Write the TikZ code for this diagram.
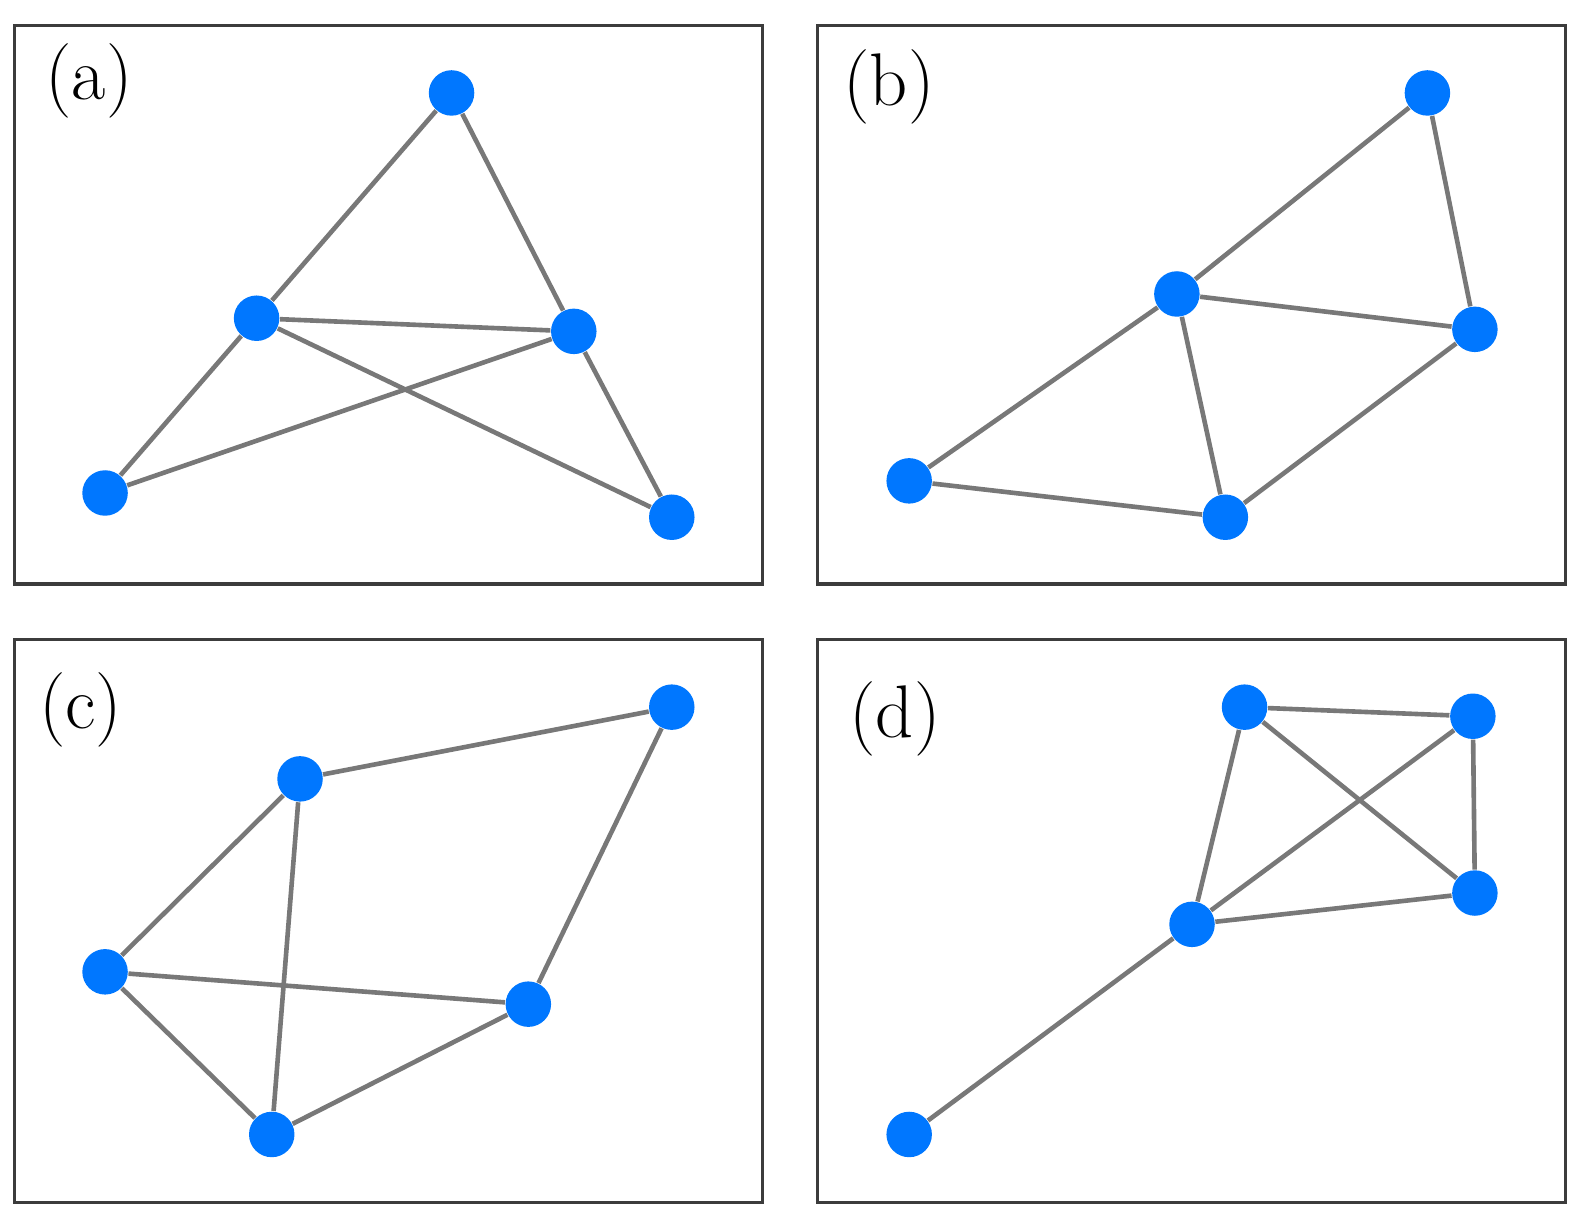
\documentclass[tikz,border=0pt]{standalone}
\begin{document}
\begin{tikzpicture}[x=0.01cm,y=-0.01cm,
  vtx/.style={circle,fill={rgb,255:red,0;green,119;blue,255},inner sep=0pt,minimum size=0.45cm},
  edge/.style={draw={rgb,255:red,120;green,120;blue,120},line width=1.3pt},
  panel/.style={draw={rgb,255:red,60;green,60;blue,60},line width=0.9pt},
  lab/.style={font=\fontsize{21}{25}\selectfont}]
\useasboundingbox (0,0) rectangle (1568,1211);
\draw[panel] (14,25) rectangle (755,578);
\draw[panel] (809,25) rectangle (1550,578);
\draw[panel] (14,633) rectangle (755,1190);
\draw[panel] (809,633) rectangle (1550,1190);
\node[lab] (la) at (88,80) {(a)};
\node[lab] (lb) at (880,86) {(b)};
\node[lab] (lc) at (80,703) {(c)};
\node[lab] (ld) at (886,712) {(d)};
% (a)
\node[vtx] (a1) at (447,92) {};
\node[vtx] (a2) at (254,315) {};
\node[vtx] (a3) at (568,328) {};
\node[vtx] (a4) at (104,488) {};
\node[vtx] (a5) at (665,512) {};
% (b)
\node[vtx] (b1) at (1413,92) {};
\node[vtx] (b2) at (1165,291) {};
\node[vtx] (b3) at (1460,326) {};
\node[vtx] (b4) at (900,476) {};
\node[vtx] (b5) at (1213,512) {};
% (c)
\node[vtx] (c1) at (665,700) {};
\node[vtx] (c2) at (297,771) {};
\node[vtx] (c3) at (104,962) {};
\node[vtx] (c4) at (523,994) {};
\node[vtx] (c5) at (269,1123) {};
% (d)
\node[vtx] (d1) at (1232,700) {};
\node[vtx] (d2) at (1458,709) {};
\node[vtx] (d3) at (1460,884) {};
\node[vtx] (d4) at (1180,915) {};
\node[vtx] (d5) at (900,1123) {};
\path[edge] (a1)--(a2) (a1)--(a3) (a2)--(a3) (a2)--(a4) (a2)--(a5) (a3)--(a4) (a3)--(a5);
\path[edge] (b1)--(b2) (b1)--(b3) (b2)--(b3) (b2)--(b4) (b2)--(b5) (b4)--(b5) (b5)--(b3);
\path[edge] (c2)--(c1) (c1)--(c4) (c2)--(c3) (c2)--(c5) (c3)--(c4) (c3)--(c5) (c5)--(c4);
\path[edge] (d1)--(d2) (d1)--(d3) (d1)--(d4) (d2)--(d4) (d2)--(d3) (d4)--(d3) (d4)--(d5);
\end{tikzpicture}
\end{document}
